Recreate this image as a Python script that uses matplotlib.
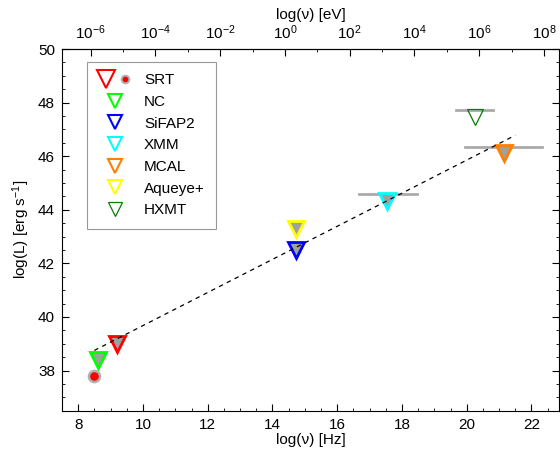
import numpy as np
import matplotlib
matplotlib.use("Agg")
import matplotlib.pyplot as plt
from matplotlib.lines import Line2D
from matplotlib.legend_handler import HandlerTuple
from matplotlib.ticker import MultipleLocator, FixedLocator

plt.rcParams['font.family'] = ['Liberation Sans', 'DejaVu Sans']
plt.rcParams['font.size'] = 11
plt.rcParams['mathtext.fontset'] = 'custom'
plt.rcParams['mathtext.rm'] = 'Liberation Sans'
plt.rcParams['mathtext.it'] = 'Liberation Sans'
plt.rcParams['mathtext.default'] = 'regular'

# instruments (upper limits, downward triangles)
names = ['SRT', 'NC', 'SiFAP2', 'XMM', 'MCAL', 'Aqueye+', 'HXMT']
colors = ['red', '#00ff00', '#0000ff', '#00ffff', '#ff7f00', '#ffff00', '#007f00']
logv = [9.2, 8.6, 14.73, 17.55, 21.15, 14.73, 20.25]
logL = [39.0, 38.4, 42.5, 44.33, 46.1, 43.3, 47.45]

# SRT detection (circle)
srt_v, srt_L = 8.5, 37.8

# horizontal bands (start, end, level)
band_x0 = [16.68, 19.96, 19.67]
band_x1 = [18.45, 22.34, 20.82]
band_y = [44.6, 46.35, 47.72]

# power-law fit
fit_x = [8.5, 21.5]
fit_y = [38.75, 46.78]

HZ_PER_EV = 14.3837  # log10(eV -> Hz)

fig = plt.figure(figsize=(5.6, 4.61), dpi=100)
ax = fig.add_axes([62/560, 1-410.7/461, (559-62)/560, (410.7-49)/461])

for x0, x1, y in zip(band_x0, band_x1, band_y):
    ax.plot([x0, x1], [y, y], color='#aaaaaa', lw=2, zorder=2)

for n, c, x, y in zip(names, colors, logv, logL):
    if n == 'HXMT':
        ax.plot(x, y, marker='v', ms=11.5, mfc='none', mec=c, mew=0.9, ls='none', zorder=3)
    else:
        ax.plot(x, y, marker='v', ms=11.5, mfc='#a0a0a0', mec=c, mew=2, ls='none', zorder=3)

ax.plot(srt_v, srt_L, marker='o', ms=8, mfc='red', mec='#b0b0b0', mew=1.8, ls='none', zorder=3)

ax.plot(fit_x, fit_y, color='black', lw=0.9, ls=(0, (3.5, 3.5)), zorder=4)

ax.set_xlim(7.5, 22.85)
ax.set_ylim(36.5, 50)
ax.xaxis.set_major_locator(MultipleLocator(2))
ax.xaxis.set_minor_locator(MultipleLocator(0.5))
ax.yaxis.set_major_locator(MultipleLocator(2))
ax.yaxis.set_minor_locator(MultipleLocator(0.5))
ax.tick_params(which='both', direction='in', right=True)
ax.tick_params(axis='x', which='both', top=False)
ax.tick_params(which='major', length=5, pad=5)
ax.tick_params(which='minor', length=2.5)
ax.set_xlabel('log(ν) [Hz]', labelpad=1)
ax.set_ylabel('log(L) [erg s$^{-1}$]')

sec = ax.secondary_xaxis('top', functions=(lambda x: x - HZ_PER_EV, lambda x: x + HZ_PER_EV))
sec.xaxis.set_major_locator(FixedLocator(np.arange(-6, 9, 2)))
sec.xaxis.set_minor_locator(FixedLocator(np.arange(-7, 9, 1)))
sec.set_xticklabels([f'$10^{{{k}}}$' for k in range(-6, 9, 2)])
sec.tick_params(which='both', direction='in')
sec.tick_params(which='major', length=5, pad=5)
sec.tick_params(which='minor', length=2.5)
sec.set_xlabel('log(ν) [eV]', labelpad=3)

# legend
handles = []
for n, c in zip(names, colors):
    if n == 'HXMT':
        h = Line2D([], [], marker='v', ms=10, mfc='none', mec=c, mew=0.9, ls='none')
    else:
        h = Line2D([], [], marker='v', ms=10, mfc='none', mec=c, mew=1.5, ls='none')
    handles.append(h)
srt_tri = Line2D([], [], marker='v', ms=12.5, mfc='none', mec='red', mew=1.5, ls='none')
srt_dot = Line2D([], [], marker='o', ms=5.5, mfc='red', mec='#b0b0b0', mew=1.4, ls='none')
handles[0] = (srt_tri, srt_dot)

leg = ax.legend(handles, names, loc='upper left', bbox_to_anchor=(0.05, 0.964),
                borderaxespad=0,
                handler_map={tuple: HandlerTuple(ndivide=None, pad=0.3)},
                fancybox=False, edgecolor='#999999', framealpha=1,
                labelspacing=0.5, handlelength=2.2, handletextpad=0.8,
                borderpad=0.75, fontsize=11)
leg.get_frame().set_linewidth(0.8)

fig.savefig('out.png', dpi=100)
